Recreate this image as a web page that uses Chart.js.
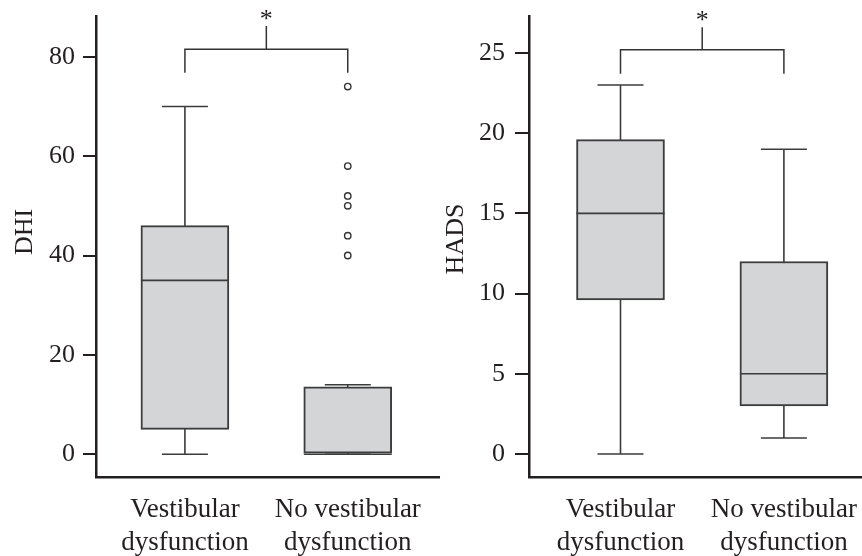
<!DOCTYPE html>
<html><head><meta charset="utf-8">
<script src="https://cdn.jsdelivr.net/npm/chart.js@4"></script>
<style>
html,body{margin:0;padding:0;background:#fff;}
#wrap{position:relative;width:862px;height:556px;overflow:hidden;background:#fff;}
canvas{position:absolute;top:0;}
</style></head><body>
<div id="wrap">
<canvas id="c1" width="445" height="556" style="left:0;width:445px;height:556px"></canvas>
<canvas id="c2" width="431" height="556" style="left:431px;width:431px;height:556px"></canvas>
</div>
<script>
// ---- data ----
const categories = [['Vestibular', 'dysfunction'], ['No vestibular', 'dysfunction']];

// DHI panel
const dhiMin = [0, 0];
const dhiQ1 = [5, 0];
const dhiMedian = [35, 0];
const dhiQ3 = [46, 13.6];
const dhiMax = [70, 14];
const dhiOutliers = [74, 58, 52, 50, 44, 40];   // group 2 (No vestibular dysfunction)
const dhiTicks = [0, 20, 40, 60, 80];
const dhiBracket = [76.8, 81.5, 86.2];          // leg end, bar, stem top

// HADS panel
const hadsMin = [0, 1];
const hadsQ1 = [9.6, 3];
const hadsMedian = [15, 5];
const hadsQ3 = [19.6, 12];
const hadsMax = [23, 19];
const hadsTicks = [0, 5, 10, 15, 20, 25];
const hadsBracket = [23.7, 25.2, 26.6];

const sigLabel = '*';

// ---- style ----
const FONT = 'Liberation Serif';
const INK = '#231f20';
const BOX_FILL = '#d4d5d7';
const BOX_LINE = '#3c3c3c';

const boxPlugin = {
  id: 'boxWhisker',
  beforeDatasetsDraw(chart, args, o) {
    const ctx = chart.ctx, xs = chart.scales.x, ys = chart.scales.y;
    ctx.save();
    ctx.strokeStyle = BOX_LINE; ctx.lineWidth = 1.6;
    o.min.forEach((mn, i) => {
      const x = xs.getPixelForValue(i);
      const yTop = ys.getPixelForValue(o.max[i]);
      const yBot = ys.getPixelForValue(mn);
      ctx.beginPath();
      ctx.moveTo(x, yTop); ctx.lineTo(x, yBot);
      ctx.moveTo(x - o.cap / 2, yTop); ctx.lineTo(x + o.cap / 2, yTop);
      ctx.moveTo(x - o.cap / 2, yBot); ctx.lineTo(x + o.cap / 2, yBot);
      ctx.stroke();
    });
    ctx.restore();
  },
  afterDatasetsDraw(chart, args, o) {
    const ctx = chart.ctx, xs = chart.scales.x, ys = chart.scales.y;
    const meta = chart.getDatasetMeta(0);
    ctx.save();
    ctx.strokeStyle = BOX_LINE; ctx.lineWidth = 1.6;
    o.median.forEach((m, i) => {
      const bar = meta.data[i];
      const y = ys.getPixelForValue(m);
      ctx.beginPath();
      ctx.moveTo(bar.x - bar.width / 2, y); ctx.lineTo(bar.x + bar.width / 2, y);
      ctx.stroke();
    });
    // significance bracket
    const b = o.bracket;
    const x0 = xs.getPixelForValue(0), x1 = xs.getPixelForValue(1), xm = (x0 + x1) / 2;
    const yLeg = ys.getPixelForValue(b[0]), yBar = ys.getPixelForValue(b[1]), yTop = ys.getPixelForValue(b[2]);
    ctx.strokeStyle = '#333'; ctx.lineWidth = 1.5;
    ctx.beginPath();
    ctx.moveTo(x0, yLeg); ctx.lineTo(x0, yBar); ctx.lineTo(x1, yBar); ctx.lineTo(x1, yLeg);
    ctx.moveTo(xm, yBar); ctx.lineTo(xm, yTop);
    ctx.stroke();
    ctx.fillStyle = INK;
    ctx.font = '26px "' + FONT + '"';
    ctx.textAlign = 'center'; ctx.textBaseline = 'alphabetic';
    ctx.fillText(sigLabel, xm, yTop + 1);
    // y-axis title
    ctx.save();
    ctx.translate(o.titleX, o.titleY);
    ctx.rotate(-Math.PI / 2);
    ctx.textBaseline = 'middle';
    ctx.font = '26px "' + FONT + '"';
    ctx.fillText(o.title, 0, 0);
    ctx.restore();
    ctx.restore();
  }
};

function makeChart(id, cfg) {
  const boxData = cfg.q1.map((q, i) => ({ x: i, y: [q, cfg.q3[i]] }));
  const datasets = [{
    type: 'bar', data: boxData, backgroundColor: BOX_FILL, borderColor: BOX_LINE,
    borderWidth: 2, borderSkipped: false, barThickness: 88
  }];
  if (cfg.outliers) {
    datasets.push({
      type: 'scatter', data: cfg.outliers.map(v => ({ x: 1, y: v })),
      pointStyle: 'circle', pointRadius: 3.2, pointBorderWidth: 1.4,
      pointBackgroundColor: '#fff', pointBorderColor: '#333', showLine: false
    });
  }
  return new Chart(document.getElementById(id), {
    type: 'bar',
    data: { datasets },
    plugins: [boxPlugin],
    options: {
      responsive: false, maintainAspectRatio: false, animation: false, events: [],
      layout: { padding: { top: 16, right: cfg.padRight, left: 0, bottom: 0 } },
      plugins: {
        legend: { display: false }, tooltip: { enabled: false },
        boxWhisker: {
          min: cfg.min, median: cfg.median, max: cfg.max, bracket: cfg.bracket, cap: 46,
          title: cfg.title, titleX: 25, titleY: cfg.titleY
        }
      },
      scales: {
        x: {
          type: 'linear', min: cfg.xMin, max: cfg.xMax, offset: false, bounds: 'ticks',
          afterBuildTicks: s => { s.ticks = categories.map((c, i) => ({ value: i })); },
          afterDataLimits: s => { s.min = cfg.xMin; s.max = cfg.xMax; },
          afterFit: s => { s.height = 79; s.paddingLeft = 0; s.paddingRight = 0; },
          grid: { display: false, drawTicks: false, offset: false },
          border: { display: true, color: INK, width: 2.5 },
          ticks: {
            callback: v => categories[v], autoSkip: false, maxRotation: 0,
            font: { family: FONT, size: 27, lineHeight: 1.22 }, color: INK, padding: 16
          }
        },
        y: {
          type: 'linear', min: cfg.yMin, max: cfg.yMax,
          afterBuildTicks: s => { s.ticks = cfg.ticks.map(v => ({ value: v })); },
          afterFit: s => { s.width = cfg.yWidth; s.paddingTop = 0; s.paddingBottom = 0; },
          grid: { drawOnChartArea: false, drawTicks: true, tickLength: cfg.tickLen, color: INK, lineWidth: 2 },
          border: { display: true, color: INK, width: 2.5 },
          ticks: { font: { family: FONT, size: 26 }, color: INK, padding: cfg.tickPad }
        }
      }
    }
  });
}

makeChart('c1', {
  min: dhiMin, q1: dhiQ1, median: dhiMedian, q3: dhiQ3, max: dhiMax, outliers: dhiOutliers,
  ticks: dhiTicks, bracket: dhiBracket, title: 'DHI', titleY: 232,
  yMin: -4.57, yMax: 88.2, xMin: -0.546, xMax: 1.564,
  yWidth: 96, padRight: 5, tickLen: 13, tickPad: 8
});
makeChart('c2', {
  min: hadsMin, q1: hadsQ1, median: hadsMedian, q3: hadsQ3, max: hadsMax, outliers: null,
  ticks: hadsTicks, bracket: hadsBracket, title: 'HADS', titleY: 239,
  yMin: -1.43, yMax: 27.3, xMin: -0.56, xMax: 1.478,
  yWidth: 98, padRight: 0, tickLen: 14, tickPad: 10
});
</script>
</body></html>
